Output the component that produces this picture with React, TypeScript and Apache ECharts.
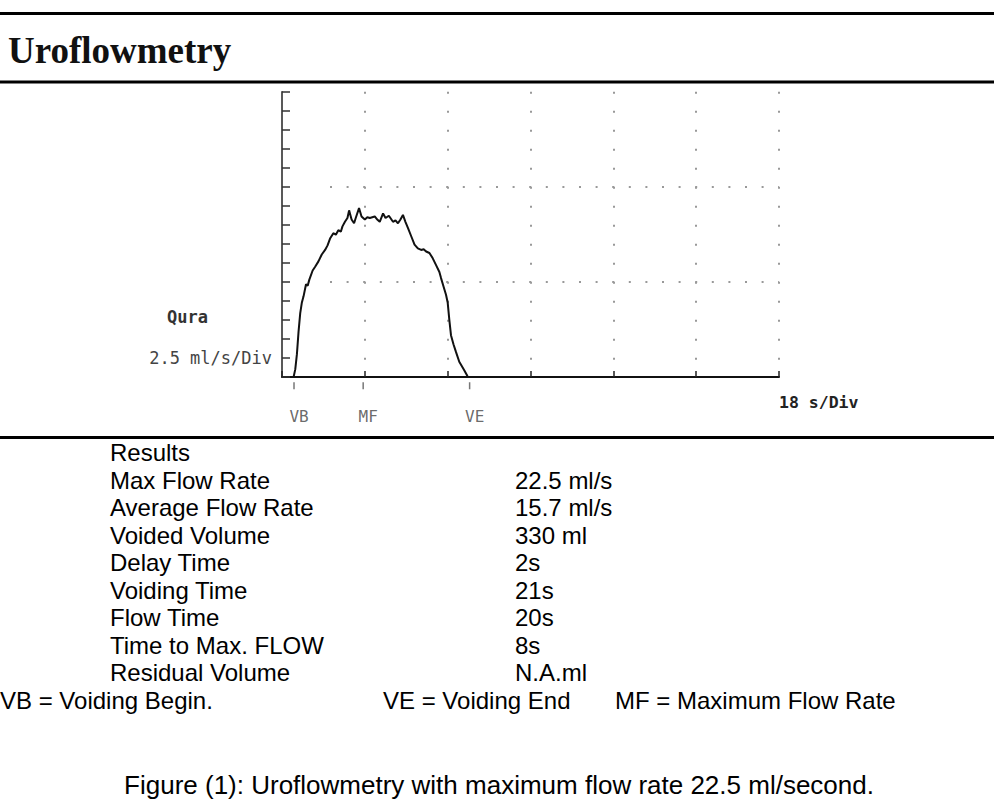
import React, { useEffect, useRef } from "react";
import * as echarts from "echarts";

// ---- data ----
const flowTime: number[] = [1.4, 1.6, 1.8, 2.0, 2.2, 2.4, 2.6, 2.9, 3.1, 3.3, 3.7, 4.0, 4.4, 4.8, 5.2, 5.5, 5.8, 6.2, 6.5, 6.8, 7.1, 7.3, 7.6, 7.9, 8.1, 8.4, 8.7, 8.9, 9.3, 9.6, 10.0, 10.3, 10.6, 11.2, 11.5, 11.8, 12.2, 12.5, 12.9, 13.4, 13.7, 14.0, 14.3, 14.6, 14.9, 15.2, 15.6, 16.0, 16.4, 16.8, 17.1, 17.4, 17.8, 18.2, 18.6, 19.0, 19.2, 19.5, 19.8, 20.0, 20.2, 20.4, 20.7, 21.0, 21.4, 22.0, 22.4];
const flowRate: number[] = [0, 1.0, 3.0, 6.0, 8.4, 9.8, 10.6, 12.2, 12.0, 12.8, 14.0, 14.5, 15.2, 16.1, 16.7, 17.3, 18.2, 18.9, 18.7, 19.3, 19.1, 19.8, 20.4, 20.9, 21.9, 20.7, 20.2, 20.9, 22.2, 21.1, 20.7, 21.0, 20.9, 21.1, 20.7, 20.4, 21.5, 20.9, 21.2, 20.4, 20.6, 20.2, 20.7, 21.3, 20.4, 19.6, 18.5, 17.4, 16.9, 16.7, 16.8, 16.5, 16.3, 15.6, 14.7, 13.8, 13.0, 11.9, 10.8, 9.8, 7.5, 5.5, 4.3, 3.3, 2.0, 0.9, 0.1];

const eventNames: string[] = ["VB", "MF", "VE"];
const eventTimes: number[] = [1.45, 9.8, 22.65];

const xMax = 60; // seconds (10 s/Div)
const yMax = 37.5; // ml/s (2.5 ml/s/Div)
const xDiv = 10;
const yDiv = 2.5;
const yGridDiv = 12.5;

const titleText = "Uroflowmetry";
const yUnitLabel = "2.5 ml/s/Div";
const yNameLabel = "Qura";
const xUnitLabel = "18 s/Div";

const resultsHeader = "Results";
const resultLabels: string[] = ["Max Flow Rate", "Average Flow Rate", "Voided Volume", "Delay Time", "Voiding Time", "Flow Time", "Time to Max. FLOW", "Residual Volume"];
const resultValues: string[] = ["22.5 ml/s", "15.7 ml/s", "330 ml", "2s", "21s", "20s", "8s", "N.A.ml"];
const legendNotes: string[] = ["VB = Voiding Begin.", "VE = Voiding End", "MF = Maximum Flow Rate"];
const captionText = "Figure (1): Uroflowmetry with maximum flow rate 22.5 ml/second.";

export default function App() {
  const ref = useRef<HTMLDivElement>(null);

  useEffect(() => {
    if (!ref.current) return;
    const chart = echarts.init(ref.current, null, { renderer: "svg" });

    const mono = "'DejaVu Sans Mono', monospace";
    const sans = "'Liberation Sans', Arial, sans-serif";

    const graphics: any[] = [];
    const rule = (y: number) => ({
      type: "line",
      shape: { x1: 0, y1: y, x2: 994, y2: y },
      style: { stroke: "#000", lineWidth: 3 },
      silent: true,
    });
    graphics.push(rule(13.5), rule(82), rule(437.5));

    graphics.push({
      type: "text",
      x: 8,
      y: 50.5,
      style: { text: titleText, font: `bold 37px 'Liberation Serif', 'Times New Roman', serif`, fill: "#111", textAlign: "left", textVerticalAlign: "middle" },
    });

    graphics.push({
      type: "text", x: 167, y: 317,
      style: { text: yNameLabel, font: `bold 17px ${mono}`, fill: "#333", textAlign: "left", textVerticalAlign: "middle" },
    });
    graphics.push({
      type: "text", x: 272, y: 358,
      style: { text: yUnitLabel, font: `17px ${mono}`, fill: "#444", textAlign: "right", textVerticalAlign: "middle" },
    });
    graphics.push({
      type: "text", x: 779, y: 402,
      style: { text: xUnitLabel, font: `bold 16.5px ${mono}`, fill: "#222", textAlign: "left", textVerticalAlign: "middle" },
    });

    // results table
    const rowH = 27.5;
    const firstRow = 452.5;
    const tFont = `24px ${sans}`;
    graphics.push({
      type: "text", x: 110, y: firstRow,
      style: { text: resultsHeader, font: tFont, fill: "#000", textAlign: "left", textVerticalAlign: "middle" },
    });
    resultLabels.forEach((lab, i) => {
      const y = firstRow + (i + 1) * rowH;
      graphics.push({
        type: "text", x: 110, y,
        style: { text: lab, font: tFont, fill: "#000", textAlign: "left", textVerticalAlign: "middle" },
      });
      graphics.push({
        type: "text", x: 515, y,
        style: { text: resultValues[i], font: tFont, fill: "#000", textAlign: "left", textVerticalAlign: "middle" },
      });
    });
    const notesY = firstRow + (resultLabels.length + 1) * rowH;
    const notesX = [0, 383, 615];
    legendNotes.forEach((n, i) => {
      graphics.push({
        type: "text", x: notesX[i], y: notesY,
        style: { text: n, font: tFont, fill: "#000", textAlign: "left", textVerticalAlign: "middle" },
      });
    });
    graphics.push({
      type: "text", x: 499, y: 785,
      style: { text: captionText, font: `26px ${sans}`, fill: "#000", textAlign: "center", textVerticalAlign: "middle" },
    });

    const option: any = {
      animation: false,
      backgroundColor: "#fff",
      grid: [
        { left: 282, right: 215, top: 91.7, bottom: 423 },
        { left: 330, right: 215, top: 91.7, bottom: 423 },
      ],
      xAxis: [
        {
          type: "value", gridIndex: 0, min: 0, max: xMax, interval: xDiv,
          axisLine: { show: true, onZero: false, lineStyle: { color: "#111", width: 2 } },
          axisTick: { show: true, inside: true, length: 6, lineStyle: { color: "#222", width: 1.5 } },
          axisLabel: { show: false },
          splitLine: { show: true, showMinLine: false, lineStyle: { color: "#999", width: 2, type: [2, 17] } },
        },
        {
          type: "value", gridIndex: 1, min: 0, max: 1,
          axisLine: { show: false }, axisTick: { show: false }, axisLabel: { show: false }, splitLine: { show: false },
        },
      ],
      yAxis: [
        {
          type: "value", gridIndex: 0, min: 0, max: yMax, interval: yDiv,
          axisLine: { show: true, onZero: false, lineStyle: { color: "#222", width: 1.5 } },
          axisTick: { show: true, inside: true, length: 8, lineStyle: { color: "#333", width: 1.5 } },
          axisLabel: { show: false },
          splitLine: { show: false },
        },
        {
          type: "value", gridIndex: 1, min: 0, max: yMax, interval: yGridDiv,
          axisLine: { show: false }, axisTick: { show: false }, axisLabel: { show: false },
          splitLine: { show: true, showMinLine: false, showMaxLine: false, lineStyle: { color: "#999", width: 2, type: [2, 14.6] } },
        },
      ],
      series: [
        {
          type: "line",
          xAxisIndex: 0, yAxisIndex: 0,
          data: flowTime.map((t, i) => [t, flowRate[i]]),
          showSymbol: false,
          lineStyle: { color: "#111", width: 2 },
          silent: true,
        },
        {
          type: "scatter",
          xAxisIndex: 0, yAxisIndex: 0,
          clip: false,
          data: eventTimes.map((t, i) => ({ value: [t, -1.15], name: eventNames[i] })),
          symbol: "rect",
          symbolSize: [1.5, 7],
          itemStyle: { color: "#555" },
          label: {
            show: true,
            position: "bottom",
            distance: 19,
            offset: [5, 0],
            formatter: (p: any) => p.name,
            fontFamily: "DejaVu Sans Mono, monospace",
            fontSize: 16,
            color: "#444",
          },
          silent: true,
        },
      ],
      graphic: graphics,
    };

    chart.setOption(option);
    return () => chart.dispose();
  }, []);

  return (
    <div
      ref={ref}
      style={{ position: "absolute", left: 0, top: 0, width: 994, height: 800, background: "#fff" }}
    />
  );
}
